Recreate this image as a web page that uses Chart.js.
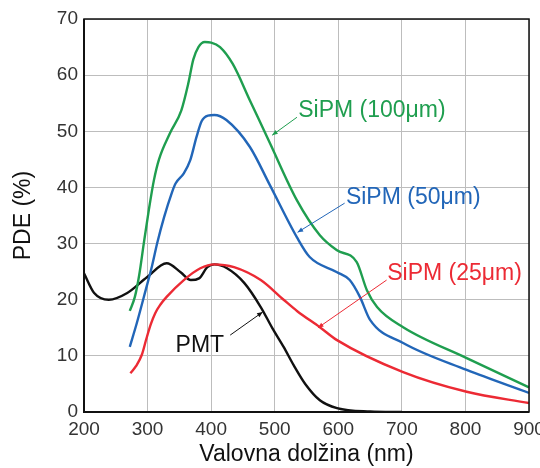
<!DOCTYPE html>
<html>
<head>
<meta charset="utf-8">
<script src="https://cdn.jsdelivr.net/npm/chart.js@4"></script>
<style>
  html, body { margin: 0; padding: 0; background: #fff; }
  #wrap { width: 540px; height: 468px; }
</style>
</head>
<body>
<div id="wrap"><canvas id="c" width="540" height="468"></canvas></div>
<script>
// wavelength (nm) / PDE (%)
const pmtX = [200, 216, 239, 268, 299, 330, 352, 368, 381, 394, 405, 425, 452, 478, 496, 514, 530, 548, 571, 598, 650, 700];
const pmtY = [24.7, 21.2, 20, 21.2, 24, 26.5, 24.9, 23.5, 23.8, 25.8, 26.3, 25.6, 23, 18.7, 15, 11.6, 8.3, 5, 2.1, 0.7, 0.1, 0];

const sipm100X = [272, 280, 287, 294, 302, 310, 318, 335, 353, 364, 372, 380, 390, 400, 414, 434, 461, 492, 535, 571, 598, 629, 645, 661, 702, 802, 900];
const sipm100Y = [18, 20.5, 24.5, 30, 36, 41.3, 45, 49.6, 53.7, 58.5, 62.8, 65, 65.9, 65.8, 65, 62, 55.5, 48, 37.7, 31.5, 28.8, 26.7, 21.7, 18.7, 15.1, 9.6, 4.4];

const sipm50X = [272, 283, 297, 307, 315, 326, 338, 344, 357, 367, 377, 385, 395, 405, 424, 461, 492, 535, 555, 598, 618, 634, 650, 702, 802, 900];
const sipm50Y = [11.6, 15.8, 21.7, 26, 30, 34.7, 39, 40.7, 42.5, 44.8, 49, 51.8, 52.8, 52.9, 52, 47.2, 40.5, 31.1, 27.6, 24.9, 23.5, 20.5, 16.4, 12.3, 7.5, 3.4];

const sipm25X = [273, 282, 291, 298, 305, 312, 320, 330, 357, 383, 405, 436, 478, 514, 535, 571, 598, 702, 802, 900];
const sipm25Y = [6.9, 8.2, 10.2, 13, 15.6, 17.6, 19.1, 20.5, 23.5, 25.6, 26.3, 25.8, 23.5, 20, 18, 15.1, 12.8, 7.1, 3.6, 1.6];

const xTicks = [200, 300, 400, 500, 600, 700, 800, 900];
const yTicks = [0, 10, 20, 30, 40, 50, 60, 70];

// Series colours
const COLORS = {
  pmt: '#111111',
  s100: '#1f9e4f',
  s50: '#2266b8',
  s25: '#ec2a34',
};

// label text, label anchor (nm, %), leader line from -> to (nm, %)
const LABELS = [
  { text: 'SiPM (100\u03bcm)', color: COLORS.s100, at: [537, 53.7], from: [535, 52.5], to: [496, 49.3] },
  { text: 'SiPM (50\u03bcm)', color: COLORS.s50, at: [612, 38.2], from: [610, 37.2], to: [536, 32] },
  { text: 'SiPM (25\u03bcm)', color: COLORS.s25, at: [677, 24.7], from: [676, 23.5], to: [568, 15] },
  { text: 'PMT', color: COLORS.pmt, at: [344, 11.9], from: [430, 13.7], to: [481, 17.8] },
];

const FONT = '"Liberation Sans", Arial, sans-serif';

function pts(xs, ys) {
  return xs.map((x, i) => ({ x: x, y: ys[i] }));
}

function series(xs, ys, color) {
  return {
    data: pts(xs, ys),
    borderColor: color,
    backgroundColor: color,
    borderWidth: 2.4,
    pointRadius: 0,
    cubicInterpolationMode: 'monotone',
    fill: false,
  };
}

// frame round the plot area
const framePlugin = {
  id: 'frame',
  afterDatasetsDraw(chart) {
    const a = chart.chartArea;
    const ctx = chart.ctx;
    ctx.save();
    ctx.strokeStyle = '#111';
    ctx.lineWidth = 1.5;
    ctx.strokeRect(a.left, a.top, a.right - a.left, a.bottom - a.top);
    ctx.lineWidth = 2;
    ctx.beginPath();
    ctx.moveTo(a.left, a.top);
    ctx.lineTo(a.left, a.bottom);
    ctx.lineTo(a.right, a.bottom);
    ctx.stroke();
    ctx.restore();
  },
};

// curve names with leader lines
const labelPlugin = {
  id: 'curveLabels',
  afterDatasetsDraw(chart) {
    const xs = chart.scales.x;
    const ys = chart.scales.y;
    const ctx = chart.ctx;
    ctx.save();
    LABELS.forEach(l => {
      const fx = xs.getPixelForValue(l.from[0]), fy = ys.getPixelForValue(l.from[1]);
      const tx = xs.getPixelForValue(l.to[0]), ty = ys.getPixelForValue(l.to[1]);
      ctx.strokeStyle = l.color;
      ctx.fillStyle = l.color;
      ctx.lineWidth = 1;
      ctx.beginPath();
      ctx.moveTo(fx, fy);
      ctx.lineTo(tx, ty);
      ctx.stroke();
      // small arrow head
      const ang = Math.atan2(ty - fy, tx - fx);
      ctx.beginPath();
      ctx.moveTo(tx, ty);
      ctx.lineTo(tx - 6 * Math.cos(ang - 0.4), ty - 6 * Math.sin(ang - 0.4));
      ctx.lineTo(tx - 6 * Math.cos(ang + 0.4), ty - 6 * Math.sin(ang + 0.4));
      ctx.closePath();
      ctx.fill();

      ctx.font = '23px ' + FONT;
      ctx.textAlign = 'left';
      ctx.textBaseline = 'middle';
      ctx.fillText(l.text, xs.getPixelForValue(l.at[0]), ys.getPixelForValue(l.at[1]));
    });
    ctx.restore();
  },
};

new Chart(document.getElementById('c'), {
  type: 'line',
  data: {
    datasets: [
      series(sipm100X, sipm100Y, COLORS.s100),
      series(sipm50X, sipm50Y, COLORS.s50),
      series(sipm25X, sipm25Y, COLORS.s25),
      series(pmtX, pmtY, COLORS.pmt),
    ],
  },
  options: {
    responsive: false,
    animation: false,
    layout: { padding: { left: 0, right: 11, top: 19, bottom: 0 } },
    plugins: {
      legend: { display: false },
      tooltip: { enabled: false },
    },
    scales: {
      x: {
        type: 'linear',
        min: xTicks[0],
        max: xTicks[xTicks.length - 1],
        afterBuildTicks: s => { s.ticks = xTicks.map(v => ({ value: v })); },
        afterFit: s => { s.height = 56; s.paddingRight = 11; },
        grid: { color: '#bdbdbd', lineWidth: 1, drawTicks: false },
        border: { display: false },
        ticks: { color: '#333', font: { family: FONT, size: 19 }, padding: 6, maxRotation: 0 },
        title: {
          display: true,
          text: 'Valovna dol\u017eina (nm)',
          color: '#111',
          font: { family: FONT, size: 23 },
          padding: { top: 0, bottom: 0 },
        },
      },
      y: {
        min: yTicks[0],
        max: yTicks[yTicks.length - 1],
        afterBuildTicks: s => { s.ticks = yTicks.map(v => ({ value: v })); },
        afterFit: s => { s.width = 84; },
        grid: { color: '#bdbdbd', lineWidth: 1, drawTicks: false },
        border: { display: false },
        ticks: { color: '#333', font: { family: FONT, size: 19 }, padding: 6 },
        title: {
          display: true,
          text: 'PDE (%)',
          color: '#111',
          font: { family: FONT, size: 23 },
          padding: { top: 10, bottom: 0 },
        },
      },
    },
  },
  plugins: [framePlugin, labelPlugin],
});
</script>
</body>
</html>
